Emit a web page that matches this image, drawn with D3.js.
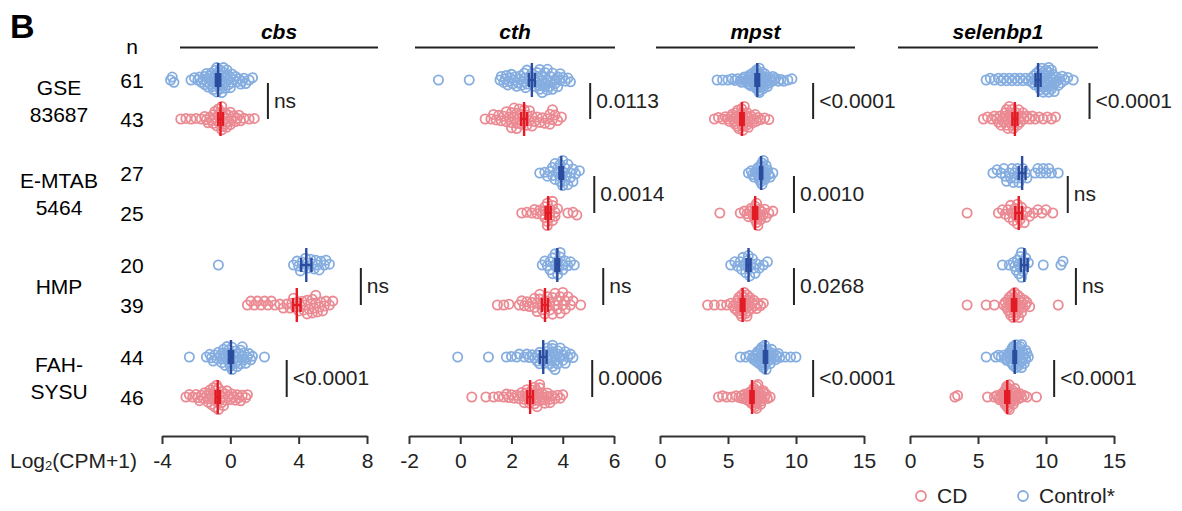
<!DOCTYPE html>
<html>
<head>
<meta charset="utf-8">
<script src="https://cdn.jsdelivr.net/npm/d3@7"></script>
<style>
  body { margin: 0; background: #fff; }
  svg { font-family: "Liberation Sans", Arial, sans-serif; }
</style>
</head>
<body>
<svg width="1182" height="511"></svg>
<script>
// ---- data (Log2(CPM+1)) ----
var genes = ["cbs", "cth", "mpst", "selenbp1"];
var datasetNames = [["GSE", "83687"], ["E-MTAB", "5464"], ["HMP"], ["FAH-", "SYSU"]];
var nControl = [61, 27, 20, 44];
var nCD = [43, 25, 39, 46];
var domains = [[-4, 8], [-2, 6], [0, 15], [0, 15]];
var tickValues = [[-4, 0, 4, 8], [-2, 0, 2, 4, 6], [0, 5, 10, 15], [0, 5, 10, 15]];

// one list per dataset: GSE83687, E-MTAB5464, HMP, FAH-SYSU
var cbsControl = [
  [-3.5, -3.4, -3.3, -2.3, -2.1, -1.9, -1.8, -1.7, -1.6, -1.5, -1.5, -1.4, -1.4, -1.3, -1.3, -1.2, -1.2, -1.1, -1.1, -1.0, -1.0, -1.0, -0.9, -0.9, -0.9, -0.8, -0.8, -0.8, -0.7, -0.7, -0.7, -0.6, -0.6, -0.6, -0.5, -0.5, -0.5, -0.4, -0.4, -0.4, -0.3, -0.3, -0.3, -0.2, -0.2, -0.1, -0.1, 0.0, 0.0, 0.1, 0.1, 0.2, 0.3, 0.4, 0.5, 0.6, 0.7, 0.8, 0.9, 1.1, 1.3],
  [],
  [-0.7, 3.7, 3.9, 4.0, 4.1, 4.2, 4.3, 4.4, 4.5, 4.6, 4.7, 4.8, 4.9, 5.0, 5.1, 5.2, 5.3, 5.5, 5.6, 5.8],
  [-2.4, -1.4, -1.2, -1.1, -1.0, -0.9, -0.8, -0.7, -0.6, -0.5, -0.5, -0.4, -0.4, -0.3, -0.3, -0.2, -0.2, -0.1, -0.1, 0.0, 0.0, 0.0, 0.1, 0.1, 0.2, 0.2, 0.3, 0.3, 0.4, 0.4, 0.5, 0.5, 0.6, 0.6, 0.7, 0.7, 0.8, 0.8, 0.9, 1.0, 1.1, 1.2, 1.3, 2.0]
];
var cbsCD = [
  [-2.9, -2.6, -2.3, -2.0, -1.7, -1.5, -1.4, -1.3, -1.2, -1.1, -1.0, -1.0, -0.9, -0.9, -0.8, -0.8, -0.7, -0.7, -0.6, -0.6, -0.6, -0.5, -0.5, -0.5, -0.4, -0.4, -0.3, -0.3, -0.2, -0.2, -0.1, -0.1, 0.0, 0.0, 0.1, 0.2, 0.3, 0.4, 0.5, 0.6, 0.8, 1.1, 1.4],
  [],
  [1.0, 1.2, 1.4, 1.6, 1.8, 2.0, 2.2, 2.4, 2.6, 2.9, 3.1, 3.3, 3.5, 3.6, 3.7, 3.8, 3.9, 4.0, 4.1, 4.2, 4.3, 4.4, 4.5, 4.5, 4.6, 4.7, 4.8, 4.8, 4.9, 5.0, 5.0, 5.1, 5.2, 5.3, 5.4, 5.5, 5.6, 5.8, 6.0],
  [-2.6, -2.4, -2.2, -2.0, -1.9, -1.8, -1.7, -1.6, -1.5, -1.4, -1.3, -1.3, -1.2, -1.2, -1.1, -1.1, -1.0, -1.0, -0.9, -0.9, -0.9, -0.8, -0.8, -0.8, -0.7, -0.7, -0.6, -0.6, -0.5, -0.5, -0.4, -0.4, -0.3, -0.3, -0.2, -0.1, 0.0, 0.1, 0.2, 0.3, 0.4, 0.5, 0.6, 0.7, 0.9, 1.0]
];
var cthControl = [
  [-0.85, 0.35, 1.55, 1.6, 1.7, 1.75, 1.8, 1.85, 1.9, 1.95, 2.0, 2.05, 2.1, 2.15, 2.2, 2.25, 2.3, 2.35, 2.4, 2.45, 2.5, 2.5, 2.55, 2.6, 2.6, 2.7, 2.7, 2.8, 2.8, 2.9, 2.9, 3.0, 3.0, 3.0, 3.1, 3.1, 3.1, 3.2, 3.2, 3.2, 3.3, 3.3, 3.3, 3.4, 3.4, 3.4, 3.5, 3.5, 3.5, 3.6, 3.6, 3.7, 3.7, 3.8, 3.8, 3.9, 3.9, 4.0, 4.1, 4.2, 4.3],
  [3.1, 3.3, 3.4, 3.5, 3.6, 3.6, 3.7, 3.7, 3.8, 3.8, 3.9, 3.9, 3.9, 4.0, 4.0, 4.0, 4.1, 4.1, 4.1, 4.2, 4.2, 4.3, 4.3, 4.4, 4.4, 4.5, 4.65],
  [3.2, 3.3, 3.4, 3.5, 3.5, 3.6, 3.6, 3.7, 3.7, 3.8, 3.8, 3.8, 3.9, 3.9, 4.0, 4.0, 4.1, 4.2, 4.3, 4.45],
  [-0.1, 1.1, 1.8, 2.0, 2.2, 2.3, 2.5, 2.6, 2.7, 2.8, 2.9, 3.0, 3.0, 3.1, 3.1, 3.2, 3.2, 3.3, 3.3, 3.4, 3.4, 3.4, 3.5, 3.5, 3.5, 3.6, 3.6, 3.6, 3.6, 3.7, 3.7, 3.7, 3.8, 3.8, 3.8, 3.9, 3.9, 4.0, 4.0, 4.1, 4.1, 4.2, 4.3, 4.4]
];
var cthCD = [
  [0.97, 1.2, 1.3, 1.4, 1.5, 1.6, 1.7, 1.8, 1.8, 1.9, 2.0, 2.0, 2.0, 2.1, 2.1, 2.2, 2.2, 2.2, 2.3, 2.3, 2.4, 2.4, 2.5, 2.5, 2.6, 2.6, 2.7, 2.7, 2.8, 2.8, 2.9, 3.0, 3.1, 3.2, 3.3, 3.4, 3.5, 3.5, 3.6, 3.6, 3.7, 3.8, 3.95],
  [2.4, 2.6, 2.8, 2.9, 3.0, 3.1, 3.2, 3.3, 3.3, 3.3, 3.4, 3.4, 3.4, 3.5, 3.5, 3.5, 3.6, 3.6, 3.6, 3.7, 3.7, 3.8, 4.2, 4.4, 4.55],
  [1.45, 1.7, 1.9, 2.3, 2.4, 2.5, 2.6, 2.7, 2.8, 2.9, 2.9, 3.0, 3.0, 3.1, 3.1, 3.2, 3.2, 3.3, 3.3, 3.4, 3.4, 3.5, 3.5, 3.6, 3.6, 3.7, 3.7, 3.8, 3.8, 3.9, 3.9, 4.0, 4.0, 4.1, 4.1, 4.2, 4.3, 4.4, 4.7],
  [0.45, 1.0, 1.3, 1.5, 1.7, 1.8, 1.9, 2.0, 2.1, 2.2, 2.3, 2.4, 2.4, 2.5, 2.5, 2.6, 2.6, 2.6, 2.7, 2.7, 2.8, 2.8, 2.8, 2.9, 2.9, 2.9, 3.0, 3.0, 3.0, 3.0, 3.1, 3.1, 3.1, 3.2, 3.2, 3.3, 3.3, 3.4, 3.4, 3.5, 3.5, 3.6, 3.7, 3.8, 3.9, 4.0]
];
var mpstControl = [
  [4.2, 4.6, 5.0, 5.3, 5.5, 5.7, 5.9, 6.0, 6.1, 6.2, 6.3, 6.4, 6.5, 6.5, 6.6, 6.6, 6.7, 6.7, 6.8, 6.8, 6.9, 6.9, 7.0, 7.0, 7.0, 7.0, 7.1, 7.1, 7.1, 7.2, 7.2, 7.2, 7.3, 7.3, 7.3, 7.3, 7.4, 7.4, 7.4, 7.5, 7.5, 7.5, 7.6, 7.6, 7.7, 7.7, 7.8, 7.8, 7.9, 7.9, 8.0, 8.1, 8.2, 8.3, 8.4, 8.5, 8.7, 8.9, 9.1, 9.4, 9.7],
  [6.5, 6.7, 6.8, 6.9, 7.0, 7.1, 7.2, 7.2, 7.3, 7.3, 7.4, 7.4, 7.4, 7.5, 7.5, 7.5, 7.6, 7.6, 7.6, 7.7, 7.7, 7.8, 7.8, 7.9, 8.0, 8.1, 8.3],
  [5.2, 5.5, 5.7, 5.9, 6.0, 6.1, 6.2, 6.3, 6.4, 6.5, 6.5, 6.6, 6.7, 6.8, 6.9, 7.0, 7.1, 7.3, 7.6, 7.9],
  [5.9, 6.3, 6.6, 6.8, 6.9, 7.0, 7.1, 7.1, 7.2, 7.2, 7.3, 7.3, 7.4, 7.4, 7.5, 7.5, 7.5, 7.5, 7.6, 7.6, 7.6, 7.7, 7.7, 7.7, 7.8, 7.8, 7.8, 7.9, 7.9, 8.0, 8.0, 8.1, 8.1, 8.2, 8.2, 8.3, 8.4, 8.5, 8.6, 8.7, 8.8, 9.2, 9.6, 10.0]
];
var mpstCD = [
  [4.0, 4.3, 4.6, 4.8, 5.0, 5.1, 5.2, 5.3, 5.4, 5.5, 5.5, 5.6, 5.6, 5.7, 5.7, 5.8, 5.8, 5.9, 5.9, 6.0, 6.0, 6.0, 6.1, 6.1, 6.1, 6.2, 6.2, 6.3, 6.3, 6.4, 6.4, 6.5, 6.5, 6.6, 6.7, 6.8, 6.9, 7.0, 7.1, 7.2, 7.4, 7.7, 8.0],
  [4.4, 5.9, 6.2, 6.4, 6.5, 6.6, 6.7, 6.8, 6.9, 7.0, 7.0, 7.0, 7.1, 7.1, 7.2, 7.2, 7.3, 7.3, 7.4, 7.5, 7.6, 7.7, 7.8, 8.0, 8.3],
  [3.5, 4.0, 4.5, 4.9, 5.2, 5.4, 5.5, 5.6, 5.7, 5.7, 5.8, 5.8, 5.9, 5.9, 6.0, 6.0, 6.0, 6.1, 6.1, 6.2, 6.2, 6.2, 6.3, 6.3, 6.4, 6.4, 6.4, 6.5, 6.5, 6.6, 6.6, 6.7, 6.8, 6.9, 7.0, 7.1, 7.2, 7.4, 7.6],
  [4.3, 4.6, 4.9, 5.3, 5.6, 5.8, 6.0, 6.1, 6.2, 6.3, 6.4, 6.5, 6.5, 6.6, 6.6, 6.7, 6.7, 6.8, 6.8, 6.8, 6.9, 6.9, 6.9, 7.0, 7.0, 7.0, 7.0, 7.1, 7.1, 7.1, 7.1, 7.2, 7.2, 7.2, 7.3, 7.3, 7.4, 7.4, 7.5, 7.5, 7.6, 7.6, 7.7, 7.8, 7.9, 8.1]
];
var selenbp1Control = [
  [5.6, 5.9, 6.2, 6.5, 6.7, 6.9, 7.1, 7.3, 7.5, 7.7, 7.9, 8.1, 8.3, 8.5, 8.7, 8.9, 9.0, 9.1, 9.2, 9.2, 9.3, 9.4, 9.4, 9.5, 9.5, 9.6, 9.6, 9.6, 9.7, 9.7, 9.8, 9.8, 9.8, 9.9, 9.9, 10.0, 10.0, 10.0, 10.1, 10.1, 10.2, 10.2, 10.2, 10.3, 10.3, 10.4, 10.4, 10.4, 10.5, 10.5, 10.6, 10.6, 10.7, 10.8, 10.9, 11.0, 11.1, 11.2, 11.4, 11.6, 12.0],
  [6.1, 6.4, 6.7, 6.9, 7.0, 7.1, 7.3, 7.4, 7.5, 7.6, 7.7, 7.8, 7.9, 8.0, 8.1, 8.2, 8.3, 8.5, 8.6, 9.2, 9.4, 9.6, 9.8, 10.0, 10.2, 10.4, 10.9],
  [6.8, 7.3, 7.6, 7.7, 7.8, 7.9, 8.0, 8.0, 8.1, 8.1, 8.2, 8.2, 8.3, 8.3, 8.4, 8.5, 8.7, 9.8, 11.1, 11.25],
  [5.6, 6.3, 6.5, 6.7, 6.9, 7.0, 7.1, 7.2, 7.3, 7.3, 7.4, 7.4, 7.5, 7.5, 7.5, 7.6, 7.6, 7.6, 7.7, 7.7, 7.7, 7.8, 7.8, 7.8, 7.9, 7.9, 7.9, 8.0, 8.0, 8.0, 8.1, 8.1, 8.1, 8.2, 8.2, 8.2, 8.3, 8.3, 8.4, 8.4, 8.5, 8.5, 8.6, 8.7]
];
var selenbp1CD = [
  [5.4, 5.7, 6.0, 6.2, 6.4, 6.5, 6.6, 6.7, 6.8, 6.9, 7.0, 7.0, 7.1, 7.1, 7.2, 7.2, 7.3, 7.3, 7.4, 7.4, 7.5, 7.5, 7.6, 7.6, 7.7, 7.8, 7.8, 7.9, 8.0, 8.0, 8.1, 8.2, 8.3, 8.4, 8.6, 8.8, 9.0, 9.2, 9.5, 9.8, 10.1, 10.4, 10.7],
  [4.2, 6.5, 6.8, 7.0, 7.2, 7.3, 7.4, 7.5, 7.6, 7.7, 7.8, 7.9, 7.9, 8.0, 8.1, 8.2, 8.3, 8.4, 8.6, 8.8, 9.1, 9.4, 9.7, 10.0, 10.5],
  [4.2, 5.6, 6.2, 6.9, 7.0, 7.1, 7.2, 7.2, 7.3, 7.3, 7.4, 7.4, 7.4, 7.5, 7.5, 7.6, 7.6, 7.6, 7.7, 7.7, 7.7, 7.8, 7.8, 7.8, 7.9, 7.9, 8.0, 8.0, 8.0, 8.1, 8.1, 8.2, 8.2, 8.3, 8.4, 8.5, 8.6, 8.8, 10.9],
  [3.3, 3.5, 5.7, 6.2, 6.4, 6.5, 6.6, 6.7, 6.8, 6.8, 6.9, 6.9, 7.0, 7.0, 7.0, 7.0, 7.1, 7.1, 7.1, 7.1, 7.2, 7.2, 7.2, 7.2, 7.3, 7.3, 7.3, 7.4, 7.4, 7.4, 7.5, 7.5, 7.6, 7.6, 7.6, 7.7, 7.7, 7.8, 7.8, 7.9, 8.0, 8.1, 8.2, 8.4, 8.6, 9.3]
];

// p-values and where their bracket sits (in axis units)
var pLabels = [
  ["ns", null, "ns", "<0.0001"],
  ["0.0113", "0.0014", "ns", "0.0006"],
  ["<0.0001", "0.0010", "0.0268", "<0.0001"],
  ["<0.0001", "ns", "ns", "<0.0001"]
];
var pPos = [
  [2.2, null, 7.64, 3.3],
  [5.07, 5.23, 5.58, 5.15],
  [11.26, 9.85, 9.85, 11.26],
  [13.2, 11.6, 12.2, 10.6]
];

var controlData = [cbsControl, cthControl, mpstControl, selenbp1Control];
var cdData = [cbsCD, cthCD, mpstCD, selenbp1CD];

// ---- layout ----
var svg = d3.select("svg");
var panelRange = [[162, 367], [409, 614], [660, 864], [910, 1114]];
var headerLine = [[180, 378], [415, 615], [656, 855], [898, 1098]];
var rowControl = [80, 173, 265, 357];
var rowCD = [119, 213, 305, 397];
var axisY = 436;
var FS = 21; // main font size

var colControl = "#85ade0", colCD = "#eb8a92";
var colControlMean = "#2b4c9f", colCDMean = "#e31b25";
var R = 4.6, D = 5.2, maxSpread = 12.5; // circle radius, swarm spacing, max half height

// simple beeswarm: put each point as close to the row centre as it fits,
// then squash the row if it got too tall (dots are allowed to overlap)
function swarm(values, x) {
	var pts = values.map((v) => ({ v: v, x: x(v) })).sort((a, b) => a.x - b.x);
	var placed = [];
	pts.forEach((p) => {
		var iv = [];
		placed.forEach((q) => {
			var dx = p.x - q.x;
			if (Math.abs(dx) < D) {
				var h = Math.sqrt(D * D - dx * dx);
				iv.push([q.y - h, q.y + h]);
			}
		});
		var cands = [0];
		iv.forEach((i) => { cands.push(i[0], i[1]); });
		cands.sort((a, b) => Math.abs(a) - Math.abs(b));
		p.y = cands.find((c) => iv.every((i) => c <= i[0] + 1e-6 || c >= i[1] - 1e-6));
		placed.push(p);
	});
	var top = d3.max(pts, (p) => Math.abs(p.y));
	if (top > maxSpread) pts.forEach((p) => { p.y *= maxSpread / top; });
	return pts;
}

// panel letter
svg.append("text").attr("x", 10).attr("y", 38)
	.attr("font-size", 34).attr("font-weight", "bold").text("B");

// n header + dataset labels
svg.append("text").attr("x", 132).attr("y", 54).attr("text-anchor", "middle")
	.attr("font-size", FS).text("n");

datasetNames.forEach((lines, i) => {
	var mid = (rowControl[i] + rowCD[i]) / 2 + 1;
	var t = svg.append("text").attr("text-anchor", "middle").attr("font-size", FS);
	lines.forEach((s, k) => {
		t.append("tspan").attr("x", 59)
			.attr("y", mid + 7.5 + (k - (lines.length - 1) / 2) * 27)
			.text(s);
	});
	svg.append("text").attr("x", 132).attr("y", rowControl[i] + 7.5)
		.attr("text-anchor", "middle").attr("font-size", FS).text(nControl[i]);
	svg.append("text").attr("x", 132).attr("y", rowCD[i] + 7.5)
		.attr("text-anchor", "middle").attr("font-size", FS).text(nCD[i]);
});

// panels
genes.forEach((gene, g) => {
	var x = d3.scaleLinear().domain(domains[g]).range(panelRange[g]);
	var panel = svg.append("g").attr("class", "panel-" + gene);

	// header
	panel.append("text")
		.attr("x", (headerLine[g][0] + headerLine[g][1]) / 2).attr("y", 39)
		.attr("text-anchor", "middle").attr("font-size", FS)
		.attr("font-weight", "bold").attr("font-style", "italic")
		.text(gene);
	panel.append("line")
		.attr("x1", headerLine[g][0]).attr("x2", headerLine[g][1])
		.attr("y1", 47.5).attr("y2", 47.5)
		.attr("stroke", "#222").attr("stroke-width", 2);

	// axis (plain hyphen minus like the original)
	var axis = panel.append("g").attr("transform", "translate(0," + axisY + ")")
		.call(d3.axisBottom(x).tickValues(tickValues[g]).tickFormat((d) => String(d))
			.tickSize(8).tickSizeOuter(0).tickPadding(9));
	axis.selectAll("path, line").attr("stroke", "#333").attr("stroke-width", 2);
	axis.selectAll("text").attr("font-size", FS).attr("fill", "#222")
		.attr("font-family", "'Liberation Sans', Arial, sans-serif");

	for (var i = 0; i < 4; i++) {
		var groups = [
			{ vals: controlData[g][i], y: rowControl[i], col: colControl, mcol: colControlMean },
			{ vals: cdData[g][i], y: rowCD[i], col: colCD, mcol: colCDMean }
		];
		groups.forEach((grp) => {
			if (!grp.vals.length) return;
			panel.append("g").selectAll("circle")
				.data(swarm(grp.vals, x))
				.enter().append("circle")
				.attr("cx", (d) => d.x)
				.attr("cy", (d) => grp.y + d.y)
				.attr("r", R)
				.attr("fill", "none")
				.attr("stroke", grp.col)
				.attr("stroke-width", 1.8);
		});
		// mean +/- SEM markers on top
		groups.forEach((grp) => {
			if (!grp.vals.length) return;
			var m = d3.mean(grp.vals);
			var sem = d3.deviation(grp.vals) / Math.sqrt(grp.vals.length);
			var mk = panel.append("g").attr("stroke", grp.mcol).attr("stroke-width", 2.4);
			mk.append("line").attr("x1", x(m)).attr("x2", x(m))
				.attr("y1", grp.y - 17).attr("y2", grp.y + 17);
			mk.append("line").attr("x1", x(m - sem)).attr("x2", x(m + sem))
				.attr("y1", grp.y).attr("y2", grp.y);
			[m - sem, m + sem].forEach((e) => {
				mk.append("line").attr("x1", x(e)).attr("x2", x(e))
					.attr("y1", grp.y - 7).attr("y2", grp.y + 7);
			});
		});

		// significance bracket
		if (pLabels[g][i] != null) {
			var bx = x(pPos[g][i]);
			panel.append("line").attr("x1", bx).attr("x2", bx)
				.attr("y1", rowControl[i] + 3).attr("y2", rowCD[i])
				.attr("stroke", "#222").attr("stroke-width", 2);
			panel.append("text").attr("x", bx + 6)
				.attr("y", (rowControl[i] + rowCD[i]) / 2 + 8)
				.attr("font-size", FS).attr("fill", "#222")
				.text(pLabels[g][i]);
		}
	}
});

// x axis title
var xt = svg.append("text").attr("x", 10).attr("y", 468).attr("font-size", FS).attr("fill", "#222");
xt.append("tspan").text("Log");
xt.append("tspan").attr("font-size", 13).attr("dy", 2).text("2");
xt.append("tspan").attr("dy", -2).text("(CPM+1)");

// legend
var legend = [{ label: "CD", col: colCD, x: 921 }, { label: "Control*", col: colControl, x: 1023 }];
legend.forEach((l) => {
	svg.append("circle").attr("cx", l.x).attr("cy", 496).attr("r", 5)
		.attr("fill", "none").attr("stroke", l.col).attr("stroke-width", 1.8);
	svg.append("text").attr("x", l.x + 16).attr("y", 503)
		.attr("font-size", FS).attr("fill", "#222").text(l.label);
});
</script>
</body>
</html>
